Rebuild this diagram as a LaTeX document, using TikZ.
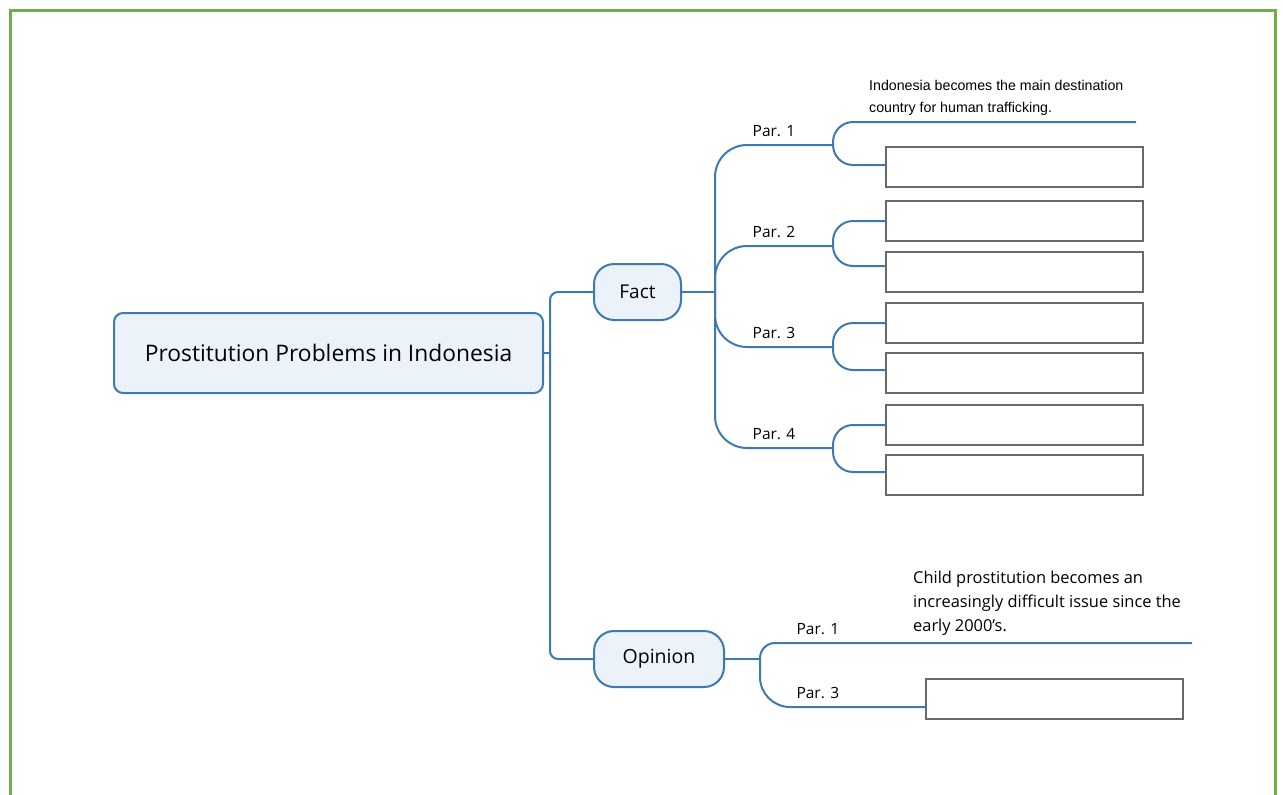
\documentclass[tikz,border=0pt]{standalone}
\usepackage{fontspec}
\setmainfont{Open Sans}
\newfontfamily\notefont{Liberation Sans}
\definecolor{mapblue}{RGB}{62,122,178}
\definecolor{mapfill}{RGB}{235,242,250}
\definecolor{boxgray}{RGB}{105,105,105}
\definecolor{framegreen}{RGB}{112,173,71}
\begin{document}
\begin{tikzpicture}[x=1pt, y=-1pt,
  topic/.style={rectangle, rounded corners=#1, draw=mapblue, line width=2pt, fill=mapfill, inner sep=0pt},
  topic/.default=8,
  link/.style={draw=mapblue, line width=2pt, rounded corners=#1},
  link/.default=0,
  answer/.style={rectangle, draw=boxgray, line width=1.4pt, minimum width=257, minimum height=40, inner sep=0pt},
  parlabel/.style={pos=#1, above=7pt, inner sep=0pt, font=\fontsize{15.5}{18}\selectfont},
  parlabel/.default=0.75,
  note/.style={anchor=north west, align=left, inner sep=0pt}]

\useasboundingbox (0,0) rectangle (1283,795);
\draw[framegreen, line width=3pt] (10.5,795) -- (10.5,10.5) -- (1275.5,10.5) -- (1275.5,795);

% topics
\node[topic=9, minimum width=429, minimum height=80, font=\fontsize{22.8}{26}\selectfont] (main) at (328.5,353) {Prostitution Problems in Indonesia};
\node[topic=20, minimum width=87, minimum height=56, font=\fontsize{19}{22}\selectfont] (fact) at (637.5,292) {Fact};
\node[topic=20, minimum width=130, minimum height=56, font=\fontsize{19.5}{22}\selectfont] (opinion) at (659,659) {Opinion};

% answer boxes
\foreach \y [count=\i] in {167,221,272,323,373,425,475}
  \node[answer] (box\i) at (1014.5,\y) {};
\node[answer] (obox) at (1054.5,699) {};

% notes
\node[note, font=\notefont\fontsize{14.2}{22}\selectfont] (fnote) at (869,80) {Indonesia becomes the main destination\\country for human trafficking.};
\node[note, font=\fontsize{16.4}{24}\selectfont] (onote) at (913,571) {Child prostitution becomes an\\increasingly difficult issue since the\\early 2000's.};

% branch points
\coordinate (trunk) at (550,353);
\coordinate (fhub) at (715,292);
\coordinate (par1) at (833,145);
\coordinate (par2) at (833,246);
\coordinate (par3) at (833,347);
\coordinate (par4) at (833,448);
\coordinate (ohub) at (760,659);
\coordinate (ftail) at (1136,122);
\coordinate (otail) at (1192,643);

% links
\draw[link] (main.east) -- (trunk);
\draw[link=8] (fact.west) -| (trunk) |- (opinion.west);
\draw[link] (fact.east) -- (fhub);
\draw[link=32] (fhub) |- node[parlabel] {Par. 1} (par1);
\draw[link=32] (fhub) |- node[parlabel] {Par. 2} (par2);
\draw[link=32] (fhub) |- node[parlabel] {Par. 3} (par3);
\draw[link=32] (fhub) |- node[parlabel] {Par. 4} (par4);
\draw[link=20] (par1) |- (ftail);
\draw[link=20] (par1) |- ([yshift=2pt]box1.west);
\draw[link=20] (par2) |- (box2.west);
\draw[link=20] (par2) |- ([yshift=6pt]box3.west);
\draw[link=20] (par3) |- (box4.west);
\draw[link=20] (par3) |- ([yshift=3pt]box5.west);
\draw[link=20] (par4) |- (box6.west);
\draw[link=20] (par4) |- ([yshift=3pt]box7.west);
\draw[link] (opinion.east) -- (ohub);
\draw[link=15] (ohub) |- node[parlabel=0.567] {Par. 1} (otail);
\draw[link=30] (ohub) |- node[parlabel=0.675] {Par. 3} ([yshift=-8pt]obox.west);

\end{tikzpicture}
\end{document}
